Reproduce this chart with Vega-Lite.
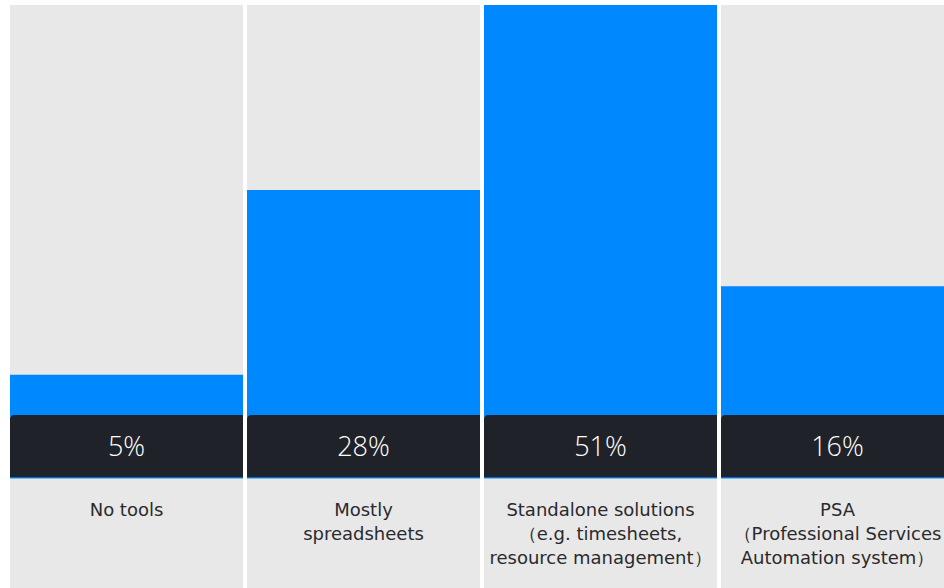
{
  "$schema": "https://vega.github.io/schema/vega-lite/v6.json",
  "width": 944,
  "height": 588,
  "autosize": "none",
  "padding": 0,
  "background": "#ffffff",
  "config": {"view": {"stroke": null}},
  "data": {
    "values": [
      {"category": "No tools", "pct": 5, "pctLabel": "5%", "lines": ["No tools"]},
      {"category": "Mostly spreadsheets", "pct": 28, "pctLabel": "28%", "lines": ["Mostly", "spreadsheets"]},
      {"category": "Standalone solutions", "pct": 51, "pctLabel": "51%", "lines": ["Standalone solutions", "（e.g. timesheets,", "resource management）"]},
      {"category": "PSA", "pct": 16, "pctLabel": "16%", "lines": ["PSA", "（Professional Services", "Automation system）"]}
    ]
  },
  "encoding": {
    "x": {
      "field": "category",
      "type": "nominal",
      "sort": null,
      "axis": null,
      "scale": {"range": [10, 954], "paddingInner": 0.0169, "paddingOuter": 0}
    }
  },
  "layer": [
    {
      "mark": {"type": "bar", "color": "#e8e8e8"},
      "encoding": {
        "y": {"datum": 51, "type": "quantitative", "scale": {"domain": [-21.52, 51.62], "range": [588, 0], "nice": false, "zero": false}, "axis": null},
        "y2": {"datum": -21.52}
      }
    },
    {
      "mark": {"type": "bar", "color": "#0088ff"},
      "encoding": {
        "y": {"field": "pct", "type": "quantitative"},
        "y2": {"datum": -7.9}
      }
    },
    {
      "mark": {"type": "bar", "color": "#202229", "cornerRadiusTopLeft": 4},
      "encoding": {
        "y": {"datum": 0, "type": "quantitative"},
        "y2": {"datum": -7.75}
      }
    },
    {
      "mark": {"type": "text", "color": "#ffffff", "font": "Open Sans", "fontSize": 27, "fontWeight": 300, "baseline": "middle", "align": "center"},
      "encoding": {
        "y": {"datum": -4.05, "type": "quantitative"},
        "text": {"field": "pctLabel"}
      }
    },
    {
      "mark": {"type": "text", "color": "#2a2a2e", "font": "DejaVu Sans", "fontSize": 18, "baseline": "top", "align": "center", "lineHeight": 24},
      "encoding": {
        "y": {"datum": -10.8, "type": "quantitative"},
        "text": {"field": "lines"}
      }
    }
  ]
}
